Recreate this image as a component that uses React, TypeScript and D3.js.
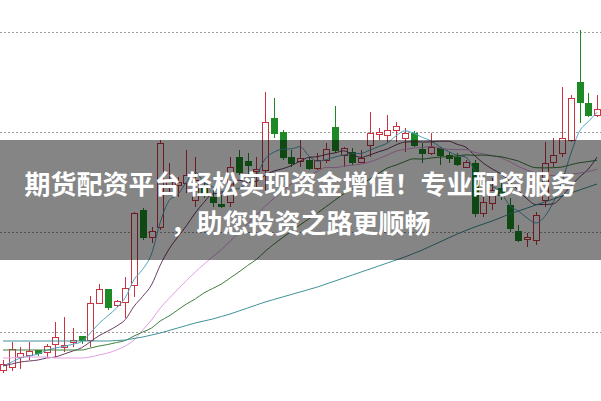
import React from "react";
import * as d3 from "d3";

const W = 601;
const H = 401;

// Candles (price units)
const openP = [6.2, 6.5, 7.5, 7.7, 8.2, 8.0, 8.8, 8.5, 9.0, 9.6,
  9.2, 12.9, 14.3, 12.7, 13.0, 14.7, 22.2, 19.5, 20.5, 24.5,
  24.7, 24.9, 23.2, 24.5, 23.5, 22.8, 23.0, 27.5, 27.1, 26.1,
  26.2, 31.4, 30.0, 27.5, 27.1, 27.2, 26.4, 27.2, 30.5, 27.7,
  28.0, 27.0, 28.7, 29.8, 29.7, 30.2, 29.4, 29.9, 28.3, 27.9,
  28.4, 27.7, 27.5, 26.5, 26.9, 21.9, 22.9, 24.4, 22.7, 20.1,
  19.3, 19.2, 23.2, 27.0, 27.9, 29.2, 35.0, 32.9, 31.7];
const closeP = [6.8, 8.3, 7.9, 8.1, 7.9, 8.6, 9.5, 8.7, 9.2, 9.2,
  12.9, 14.3, 12.5, 13.1, 14.4, 21.9, 19.5, 20.1, 28.9, 25.2,
  25.0, 25.7, 25.2, 23.7, 23.0, 22.6, 26.5, 26.0, 26.7, 26.3,
  31.0, 29.9, 27.5, 26.9, 27.4, 26.4, 27.2, 28.3, 28.2, 28.4,
  27.0, 27.4, 29.9, 30.0, 30.2, 30.6, 29.9, 28.7, 27.9, 28.5,
  27.7, 27.4, 26.8, 27.0, 21.9, 23.0, 24.2, 23.7, 20.4, 19.2,
  19.5, 21.7, 26.9, 27.7, 29.4, 33.4, 33.0, 31.7, 32.3];
const highP = [7.2, 9.0, 8.5, 9.0, 8.2, 8.8, 11.0, 11.5, 10.4, 9.6,
  13.6, 14.8, 14.3, 13.2, 15.5, 22.0, 22.4, 20.5, 29.2, 26.9,
  25.5, 28.2, 27.5, 24.9, 24.2, 23.7, 27.5, 28.2, 27.9, 27.5,
  34.0, 33.4, 30.2, 28.2, 29.2, 27.4, 27.9, 28.9, 32.6, 28.5,
  28.4, 28.2, 32.0, 30.4, 31.7, 31.0, 30.4, 30.1, 28.9, 29.9,
  28.5, 28.0, 27.9, 27.2, 27.2, 23.5, 25.4, 25.2, 23.4, 20.7,
  19.9, 22.0, 29.0, 29.4, 34.5, 33.7, 40.2, 33.9, 33.7];
const lowP = [5.9, 6.1, 6.3, 7.2, 7.6, 7.5, 7.5, 8.0, 8.5, 8.8,
  8.5, 12.8, 12.2, 12.5, 11.4, 13.5, 19.2, 18.9, 20.2, 23.9,
  23.5, 23.9, 22.5, 23.4, 22.5, 22.4, 22.5, 25.7, 25.5, 24.5,
  24.0, 29.4, 27.2, 26.5, 26.5, 26.2, 26.2, 26.9, 27.9, 26.5,
  26.7, 26.9, 27.5, 29.2, 29.0, 29.0, 28.0, 28.5, 26.9, 27.7,
  26.7, 26.9, 26.6, 26.4, 21.5, 21.5, 22.2, 23.2, 20.0, 19.0,
  18.5, 18.7, 22.5, 26.5, 27.5, 29.0, 30.9, 31.5, 31.5];

// Moving average lines
const ma5 = [6.6, 7.0, 7.4, 7.6, 7.8, 8.16, 8.4, 8.56, 8.78, 9.04,
  9.9, 10.86, 11.62, 12.4, 13.44, 15.24, 16.28, 17.8, 20.96, 23.12,
  23.74, 24.98, 26.0, 24.96, 24.52, 24.04, 24.2, 24.36, 24.96, 25.62,
  27.3, 27.98, 28.28, 28.32, 28.54, 27.62, 27.08, 27.24, 27.5, 27.7,
  27.82, 27.86, 28.18, 28.54, 28.9, 29.62, 30.12, 29.88, 29.46, 29.12,
  28.54, 28.04, 27.66, 27.48, 26.16, 25.22, 24.58, 23.96, 22.64, 22.1,
  21.4, 20.9, 21.54, 23.0, 25.04, 27.82, 30.08, 31.04, 31.96];
const ma10 = [6.6, 6.8, 7.0, 7.1, 7.2, 7.4, 7.5, 7.8, 8.1,
  8.42, 9.03, 9.63, 10.09, 10.59, 11.24, 12.57, 13.57, 14.71, 16.68,
  18.28, 19.49, 20.63, 21.9, 22.96, 23.82, 23.89, 24.59, 25.18, 24.96,
  25.07, 25.67, 26.09, 26.32, 26.64, 27.08, 27.46, 27.53, 27.76, 27.91,
  28.12, 27.72, 27.47, 27.71, 28.02, 28.3, 28.72, 28.99, 29.03, 29.0,
  29.01, 29.08, 29.08, 28.77, 28.47, 27.64, 26.88, 26.31, 25.81, 25.06,
  24.13, 23.31, 22.74, 22.75, 22.82, 23.57, 24.61, 25.49, 26.29, 27.48];
const ma20 = [7.4, 7.4, 7.5, 7.5, 7.5, 7.5, 7.4, 7.4, 7.4, 7.4,
  7.5, 7.7, 7.9, 8.2, 8.6, 9.2, 10.2, 11.2, 12.4,
  13.35, 14.26, 15.13, 15.99, 16.77, 17.53, 18.23, 19.08, 19.94, 20.82,
  21.67, 22.58, 23.36, 24.11, 24.8, 25.45, 25.67, 26.06, 26.47, 26.43,
  26.59, 26.69, 26.78, 27.01, 27.33, 27.69, 28.09, 28.26, 28.39, 28.45,
  28.56, 28.4, 28.27, 28.24, 28.24, 27.97, 27.8, 27.65, 27.42, 27.03,
  26.57, 26.19, 25.91, 25.76, 25.64, 25.6, 25.74, 25.9, 26.05, 26.27];
const ma30 = [8.2, 8.2, 8.2, 8.2, 8.2, 8.2, 8.2, 8.2, 8.2, 8.2,
  8.4, 8.6, 8.75, 8.95, 9.15, 9.6, 10.0, 10.4, 11.1, 11.6,
  12.2, 12.8, 13.3, 13.9, 14.35, 14.8, 15.4, 16.0, 16.65,
  17.25, 18.06, 18.78, 19.44, 20.06, 20.71, 21.3, 21.9, 22.55, 23.18,
  23.82, 24.29, 24.73, 25.31, 25.87, 26.4, 26.69, 27.04, 27.32, 27.29,
  27.4, 27.49, 27.54, 27.6, 27.71, 27.67, 27.69, 27.61, 27.53, 27.32,
  27.09, 26.7, 26.43, 26.41, 26.43, 26.5, 26.73, 26.93, 27.04, 27.18];
const ma60 = [9.1, 9.1, 9.1, 9.1, 9.1, 9.1, 9.1, 9.1, 9.1, 9.1, 9.1, 9.1, 9.1,
  9.15, 9.2, 9.35, 9.5, 9.7, 9.9, 10.15, 10.4, 10.65, 10.9, 11.1, 11.3,
  11.55, 11.8, 12.1, 12.4, 12.7, 13.0, 13.25, 13.5, 13.75, 14.0, 14.25,
  14.5, 14.8, 15.1, 15.4, 15.7, 16.0, 16.3, 16.6, 16.9, 17.2, 17.5,
  17.85, 18.2, 18.6, 19.0, 19.4, 19.8, 20.15, 20.5, 20.8, 21.1, 21.45,
  21.8, 22.1, 22.4, 22.7, 23.0, 23.3, 23.6, 23.9, 24.2, 24.5, 24.8];

const gridLevels = [10, 20, 30, 40];
const bannerLines = ["期货配资平台 轻松实现资金增值！专业配资服务", "，助您投资之路更顺畅"];

const RED = "#cc3340";
const GREEN = "#1d8a26";

const maSeries = [
  { name: "MA5", values: ma5, color: "#4ea6c4" },
  { name: "MA10", values: ma10, color: "#6e3a62" },
  { name: "MA20", values: ma20, color: "#e2a0e2" },
  { name: "MA30", values: ma30, color: "#3e7f3e" },
  { name: "MA60", values: ma60, color: "#3f929c" },
];

export default function App() {
  const n = openP.length;
  const x = d3.scaleLinear().domain([0, n - 1]).range([3, 597]);
  const y = d3.scaleLinear().domain([3.1, 43.2]).range([H, 0]);
  const lineGen = d3
    .line<number>()
    .x((_, i) => x(i))
    .y((d) => y(d))
    .curve(d3.curveMonotoneX);

  return (
    <svg
      width={W}
      height={H}
      style={{ position: "absolute", left: 0, top: 0, display: "block", background: "#fff" }}
    >
      <rect x={0} y={0} width={W} height={H} fill="#fff" />
      {gridLevels.map((g) => {
        const gy = Math.round(y(g)) + 0.5;
        return (
          <line key={g} x1={0} x2={W} y1={gy} y2={gy} stroke="#9a9a9a" strokeWidth={1} strokeDasharray="2 2" />
        );
      })}
      {openP.map((o, i) => {
        const c = closeP[i];
        const cx = Math.round(x(i)) + 0.5;
        const up = c >= o;
        const top = y(Math.max(o, c));
        const bot = y(Math.min(o, c));
        const hy = y(highP[i]);
        const ly = y(lowP[i]);
        const bt = Math.round(top) + 0.5;
        const bb = Math.max(Math.round(bot) + 0.5, bt + 1);
        if (up) {
          return (
            <g key={i} stroke={RED} strokeWidth={1} shapeRendering="crispEdges">
              <line x1={cx} x2={cx} y1={hy} y2={bt} />
              <line x1={cx} x2={cx} y1={bb} y2={ly} />
              <rect x={cx - 3} y={bt} width={6} height={bb - bt} fill="#fff" />
            </g>
          );
        }
        return (
          <g key={i} stroke={GREEN} strokeWidth={1} shapeRendering="crispEdges">
            <line x1={cx} x2={cx} y1={hy} y2={ly} />
            <rect x={cx - 3} y={bt} width={6} height={bb - bt} fill={GREEN} />
          </g>
        );
      })}
      {maSeries.map((s) => (
        <path key={s.name} d={lineGen(s.values) || ""} fill="none" stroke={s.color} strokeWidth={1} />
      ))}
      <rect x={0} y={140} width={W} height={120} fill="rgba(0,0,0,0.48)" />
      {bannerLines.map((t, k) => (
        <text
          key={k}
          x={300.5}
          y={182 + k * 39}
          textAnchor="middle"
          dominantBaseline="central"
          fill="#ffffff"
          fontFamily="'Noto Sans CJK SC', 'Noto Sans', sans-serif"
          fontWeight={700}
          fontSize={26}
        >
          {t}
        </text>
      ))}
    </svg>
  );
}
